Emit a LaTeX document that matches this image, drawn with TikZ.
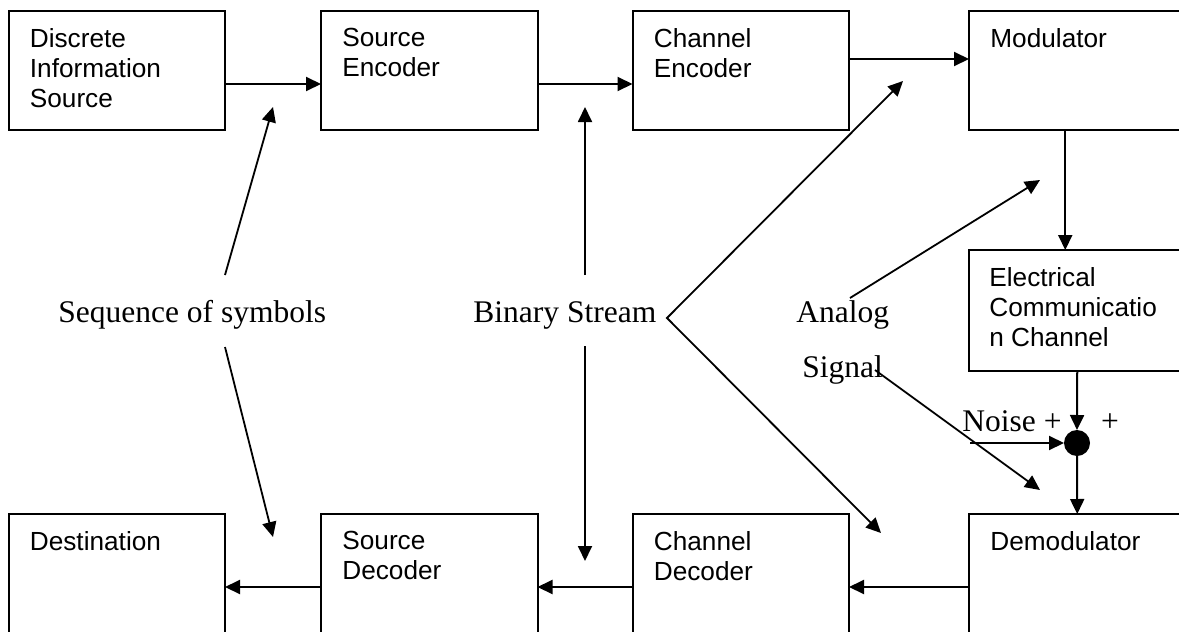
\documentclass[tikz,border=0pt]{standalone}
\usepackage{fontspec}
\setmainfont{Liberation Serif}
\newfontfamily\boxfont{Liberation Sans}
\usetikzlibrary{arrows.meta,calc}

\tikzset{
  >={Triangle[length=7.5pt,width=7pt]},
  blk/.style={draw, line width=1pt, inner sep=0pt, outer sep=0pt,
              minimum width=108.25pt, minimum height=59.5pt, anchor=north west},
  blktxt/.style={anchor=north west, inner sep=0pt, align=left,
                 font={\boxfont\fontsize{13.1pt}{15pt}\selectfont}},
  lbl/.style={anchor=base west, inner sep=0pt,
              font={\fontsize{15.75pt}{18pt}\selectfont}},
  conn/.style={line width=1pt, ->},
  pointer/.style={line width=0.9pt, ->},
}

\begin{document}
\begin{tikzpicture}[x=0.5pt,y=-0.5pt]
  \useasboundingbox (0,0) rectangle (1179,632);
  \fill[white] (0,0) rectangle (1179,632);
  \clip (0,0) rectangle (1179,632);

  % transmitter chain
  \node[blk] (dis) at (8.5,11) {};
  \node[blk] (se)  at (321,11) {};
  \node[blk] (ce)  at (632.5,11) {};
  \node[blk] (mod) at (969,11) {};
  % channel
  \node[blk, minimum height=60.5pt] (ecc) at (969,250) {};
  % receiver chain
  \node[blk] (dest)  at (8.5,514) {};
  \node[blk] (sd)    at (321,514) {};
  \node[blk] (cd)    at (632.5,514) {};
  \node[blk] (demod) at (969,514) {};

  % block captions
  \node[blktxt] (dis-t)   at ($(dis.north west)+(21,17)$)   {Discrete\\Information\\Source};
  \node[blktxt] (se-t)    at ($(se.north west)+(21,17)$)    {Source\\Encoder};
  \node[blktxt] (ce-t)    at ($(ce.north west)+(21,17)$)    {Channel\\Encoder};
  \node[blktxt] (mod-t)   at ($(mod.north west)+(21,17)$)   {Modulator};
  \node[blktxt] (ecc-t)   at ($(ecc.north west)+(20,17)$)   {Electrical\\Communicatio\\n Channel};
  \node[blktxt] (dest-t)  at ($(dest.north west)+(21,17)$)  {Destination};
  \node[blktxt] (sd-t)    at ($(sd.north west)+(21,17)$)    {Source\\Decoder};
  \node[blktxt] (cd-t)    at ($(cd.north west)+(21,17)$)    {Channel\\Decoder};
  \node[blktxt] (demod-t) at ($(demod.north west)+(21,17)$) {Demodulator};

  % adder
  \node[circle, fill=black, minimum size=13pt, inner sep=0pt, outer sep=0pt] (sum) at (1077,443) {};

  % signal path
  \draw[conn] ($(dis.east)+(0,13.5)$) -- ($(se.west)+(0,13.5)$);
  \draw[conn] ($(se.east)+(0,13.5)$) -- ($(ce.west)+(0,13.5)$);
  \draw[conn] ($(ce.east)+(0,-11.5)$) -- ($(mod.west)+(0,-11.5)$);
  \draw[conn] ($(mod.south)+(-12,0)$) -- ($(ecc.north)+(-12,0)$);
  \draw[conn] (ecc.south) -- (sum.north);
  \draw[conn] (sum.south) -- (demod.north);
  \draw[conn] ($(demod.west)+(0,13.5)$) -- ($(cd.east)+(0,13.5)$);
  \draw[conn] ($(cd.west)+(0,13.5)$) -- ($(sd.east)+(0,13.5)$);
  \draw[conn] ($(sd.west)+(0,13.5)$) -- ($(dest.east)+(0,13.5)$);

  % noise input
  \coordinate (noise-in) at (970,443);
  \draw[conn] (noise-in) -- (sum.west);
  \node[lbl] (noise) at (962,431) {Noise +};
  \node[lbl, anchor=base] (plus) at (1110,431) {+};

  % annotations
  \node[lbl] (seq) at (58,322) {Sequence of symbols};
  \node[lbl] (bin) at (473,322) {Binary Stream};
  \node[lbl] (ana) at (796,322) {Analog};
  \node[lbl] (sig) at (802,377) {Signal};

  \coordinate (seq-up0) at (225,275);
  \coordinate (seq-up1) at (273,107);
  \coordinate (seq-dn0) at (225,347);
  \coordinate (seq-dn1) at (273,537);
  \draw[pointer] (seq-up0) -- (seq-up1);
  \draw[pointer] (seq-dn0) -- (seq-dn1);

  \coordinate (bin-up0) at (585,275);
  \coordinate (bin-up1) at (585,107);
  \coordinate (bin-dn0) at (585,346);
  \coordinate (bin-dn1) at (585,561);
  \draw[pointer] (bin-up0) -- (bin-up1);
  \draw[pointer] (bin-dn0) -- (bin-dn1);

  \coordinate (bin-apex) at (667,318);
  \coordinate (bin-hi) at (903,81);
  \coordinate (bin-lo) at (881,533);
  \draw[line width=0.9pt, <->] (bin-hi) -- (bin-apex) -- (bin-lo);

  \coordinate (ana-0) at (850,298);
  \coordinate (ana-1) at (1040,180);
  \coordinate (sig-0) at (875,370);
  \coordinate (sig-1) at (1040,490);
  \draw[pointer] (ana-0) -- (ana-1);
  \draw[pointer] (sig-0) -- (sig-1);
\end{tikzpicture}
\end{document}
